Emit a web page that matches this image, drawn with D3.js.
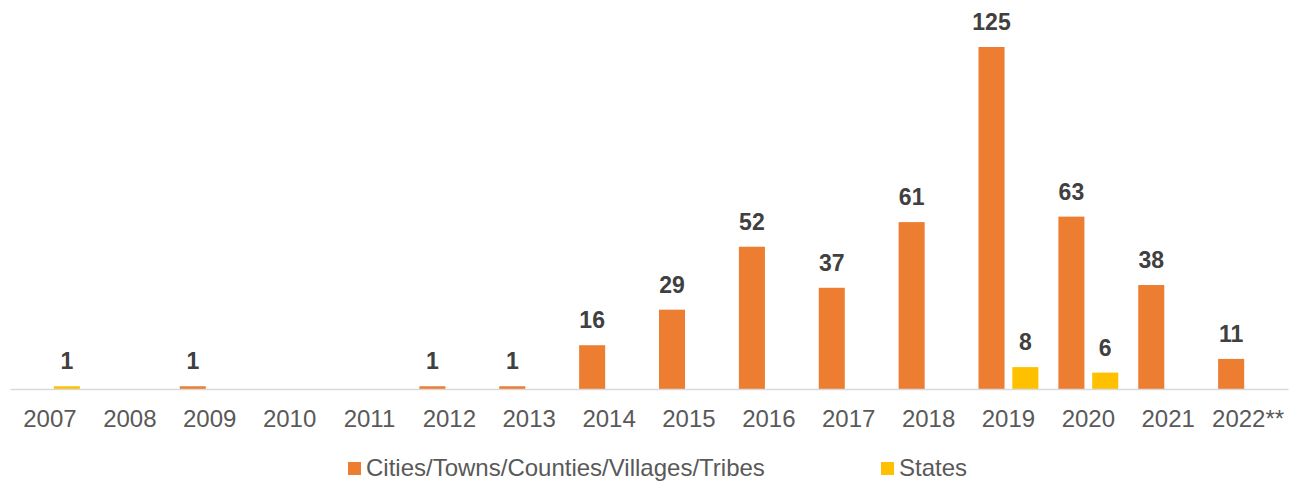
<!DOCTYPE html>
<html>
<head>
<meta charset="utf-8">
<script src="https://cdn.jsdelivr.net/npm/d3@7"></script>
<style>
  body { margin: 0; background: #fff; }
  svg { display: block; font-family: Arial, "Liberation Sans", sans-serif; }
</style>
</head>
<body>
<div id="chart"></div>
<script>
const years = ["2007", "2008", "2009", "2010", "2011", "2012", "2013", "2014",
               "2015", "2016", "2017", "2018", "2019", "2020", "2021", "2022**"];
const cities = [0, 0, 1, 0, 0, 1, 1, 16, 29, 52, 37, 61, 125, 63, 38, 11];
const states = [1, 0, 0, 0, 0, 0, 0, 0, 0, 0, 0, 0, 8, 6, 0, 0];
const seriesNames = ["Cities/Towns/Counties/Villages/Tribes", "States"];
const colors = ["#ED7D31", "#FFC000"];

const width = 1291, height = 481;
const left = 10, right = 1288, baseline = 389;

const svg = d3.select("#chart").append("svg")
    .attr("width", width)
    .attr("height", height);

const x = d3.scaleBand().domain(years).range([left, right]).paddingInner(0).paddingOuter(0);
const inner = d3.scaleBand().domain([0, 1]).range([10, x.bandwidth() - 10]).paddingInner(0.23);
const y = d3.scaleLinear().domain([0, 125]).range([baseline, 47]);

const rows = years.map((yr, i) => ({year: yr, vals: [cities[i], states[i]]}));

const groups = svg.selectAll("g.year").data(rows).enter().append("g")
    .attr("class", "year")
    .attr("transform", d => `translate(${x(d.year)},0)`);

groups.selectAll("rect").data(d => d.vals.map((v, k) => ({v, k})).filter(e => e.v > 0))
    .enter().append("rect")
    .attr("x", e => inner(e.k))
    .attr("width", inner.bandwidth())
    .attr("y", e => y(e.v))
    .attr("height", e => baseline - y(e.v))
    .attr("fill", e => colors[e.k]);

groups.selectAll("text.val").data(d => d.vals.map((v, k) => ({v, k})).filter(e => e.v > 0))
    .enter().append("text")
    .attr("class", "val")
    .attr("x", e => inner(e.k) + inner.bandwidth() / 2)
    .attr("y", e => y(e.v) - 17)
    .attr("text-anchor", "middle")
    .style("font-size", "23px")
    .style("font-weight", "bold")
    .style("fill", "#404040")
    .text(e => e.v);

// axis
const xAxis = svg.append("g")
    .attr("transform", `translate(0,${baseline})`)
    .call(d3.axisBottom(x).tickSize(0).tickPadding(0));
xAxis.select(".domain").attr("stroke", "#d9d9d9").attr("stroke-width", 1.5);
xAxis.selectAll(".tick text")
    .attr("y", 38)
    .attr("dy", null)
    .style("font-size", "24px")
    .style("fill", "#595959")
    .style("font-family", "Arial, 'Liberation Sans', sans-serif");

// legend
const legendX = [348, 881];
const legend = svg.selectAll("g.legend").data(seriesNames).enter().append("g")
    .attr("class", "legend")
    .attr("transform", (d, i) => `translate(${legendX[i]},0)`);
legend.append("rect")
    .attr("x", 0).attr("y", 462)
    .attr("width", 13).attr("height", 13)
    .attr("fill", (d, i) => colors[i]);
legend.append("text")
    .attr("x", 18).attr("y", 476)
    .style("font-size", "24px")
    .style("fill", "#595959")
    .text(d => d);
</script>
</body>
</html>
